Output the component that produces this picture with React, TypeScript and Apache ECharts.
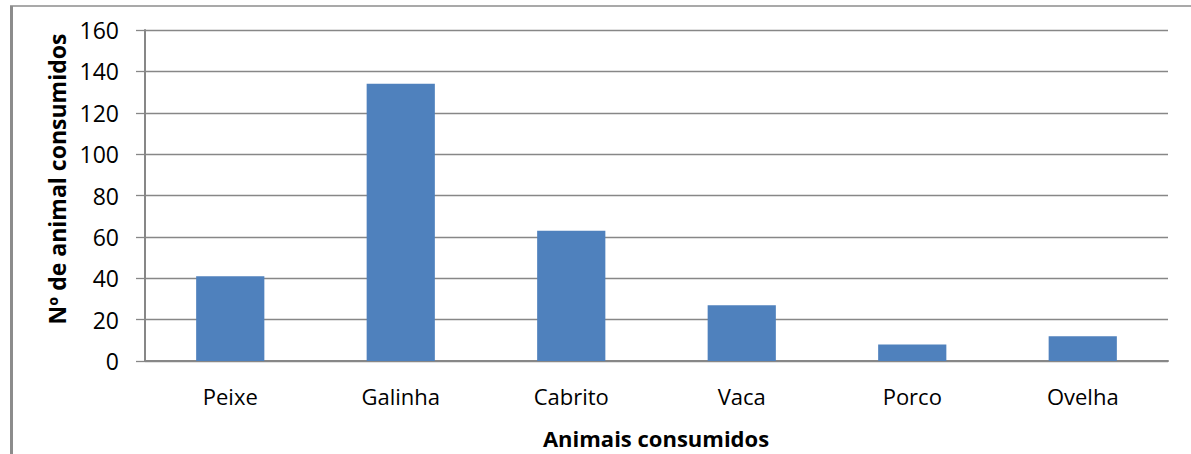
import React, { useEffect, useRef } from "react";
import * as echarts from "echarts";

const categories = ["Peixe", "Galinha", "Cabrito", "Vaca", "Porco", "Ovelha"];
const consumed = [41, 134, 63, 27, 8, 12];
const yTicks = { min: 0, max: 160, interval: 20 };

const xTitle = "Animais consumidos";
const yTitle = "Nº de animal consumidos";

const FONT = "'Open Sans', 'Liberation Sans', sans-serif";
const GRID_GRAY = "#878787";

export default function App() {
  const ref = useRef<HTMLDivElement>(null);

  useEffect(() => {
    if (!ref.current) return;
    const chart = echarts.init(ref.current, null, { renderer: "svg" });
    chart.setOption({
      animation: false,
      backgroundColor: "#ffffff",
      grid: { left: 145, right: 23, top: 30, bottom: 93, containLabel: false },
      xAxis: {
        type: "category",
        data: categories,
        axisLine: { show: true, lineStyle: { color: GRID_GRAY, width: 2 } },
        axisTick: { show: false },
        axisLabel: {
          margin: 24,
          fontFamily: FONT,
          fontSize: 22,
          color: "#000000",
        },
      },
      yAxis: {
        type: "value",
        min: yTicks.min,
        max: yTicks.max,
        interval: yTicks.interval,
        axisLine: { show: true, lineStyle: { color: GRID_GRAY, width: 2 } },
        axisTick: { show: true, length: 9, lineStyle: { color: GRID_GRAY, width: 1.3 } },
        splitLine: { show: true, lineStyle: { color: GRID_GRAY, width: 1.3 } },
        axisLabel: {
          margin: 26,
          fontFamily: FONT,
          fontSize: 23,
          color: "#000000",
        },
      },
      series: [
        {
          type: "bar",
          data: consumed,
          barCategoryGap: "60%",
          itemStyle: { color: "#4f81bd" },
        },
      ],
      graphic: [
        // outer frame: left and top edges
        {
          type: "line",
          shape: { x1: 11.5, y1: 6, x2: 11.5, y2: 454 },
          style: { stroke: "#8c8c8c", lineWidth: 3 },
        },
        {
          type: "line",
          shape: { x1: 10, y1: 6, x2: 1191, y2: 6 },
          style: { stroke: "#8c8c8c", lineWidth: 1.5 },
        },
        {
          type: "text",
          x: 656,
          y: 438,
          style: {
            text: xTitle,
            fontFamily: FONT,
            fontWeight: "bold",
            fontSize: 22,
            fill: "#000000",
            align: "center",
            verticalAlign: "middle",
          },
        },
        {
          type: "text",
          x: 57,
          y: 179,
          rotation: Math.PI / 2,
          style: {
            text: yTitle,
            fontFamily: FONT,
            fontWeight: "bold",
            fontSize: 23,
            fill: "#000000",
            align: "center",
            verticalAlign: "middle",
          },
        },
      ],
    });
    return () => chart.dispose();
  }, []);

  return (
    <div
      ref={ref}
      style={{ position: "absolute", left: 0, top: 0, width: 1191, height: 454 }}
    />
  );
}
